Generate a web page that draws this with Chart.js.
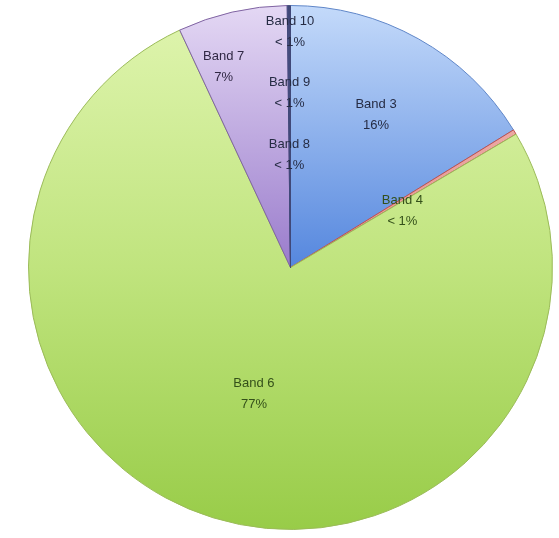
<!DOCTYPE html>
<html>
<head>
<meta charset="utf-8">
<script src="https://cdn.jsdelivr.net/npm/chart.js@4"></script>
<style>
  html, body { margin: 0; padding: 0; background: #fff; }
  #wrap { width: 559px; height: 538px; }
</style>
</head>
<body>
<div id="wrap"><canvas id="pieChart" width="559" height="538"></canvas></div>
<script>
const bandLabels = ['Band 3', 'Band 4', 'Band 6', 'Band 7', 'Band 8', 'Band 9', 'Band 10'];
const bandShares = [16.2, 0.3, 76.55, 6.75, 0.08, 0.06, 0.06];
const shareTexts = ['16%', '< 1%', '77%', '7%', '< 1%', '< 1%', '< 1%'];

// gradient stops per slice (top of pie -> bottom of pie)
const sliceGradients = [
  [['0', '#c4dafa'], ['0.5', '#5587de'], ['1', '#3f70c8']],
  [['0', '#f2b8b4'], ['1', '#d8716c']],
  [['0', '#e0f5b0'], ['0.5', '#c0e47e'], ['1', '#98cc48']],
  [['0', '#e4d8f4'], ['0.5', '#9a7ccc'], ['1', '#8a6abf']],
  [['0', '#5a6aa8'], ['1', '#4a5a98']],
  [['0', '#6a6aa8'], ['1', '#5a5a98']],
  [['0', '#7a72b0'], ['1', '#6a62a0']]
];
const sliceBorders = ['#5f86c8', '#c0504d', '#9bbb59', '#8064a2', '#404878', '#404878', '#404878'];

// where each label sits: fraction of radius and small angle nudge (degrees)
const labelRadius = [0.67, 0.48, 0.5, 0.81, 0.43, 0.67, 0.9];
const labelNudge = [0, 4, -1, -5.5, 0, 0, 0];
const labelColors = ['#262c44', '#34501a', '#34501a', '#302844', '#262c44', '#262c44', '#262c44'];

function sliceFill(context) {
  const chart = context.chart;
  const area = chart.chartArea;
  const stops = sliceGradients[context.dataIndex];
  if (!area) return stops[0][1];
  const g = chart.ctx.createLinearGradient(0, area.top, 0, area.bottom);
  stops.forEach(([pos, col]) => g.addColorStop(Number(pos), col));
  return g;
}

const bandLabelPlugin = {
  id: 'bandLabels',
  afterDatasetsDraw(chart) {
    const ctx = chart.ctx;
    const meta = chart.getDatasetMeta(0);
    ctx.save();
    ctx.font = '13px "Liberation Sans", Arial, sans-serif';
    ctx.textAlign = 'center';
    ctx.textBaseline = 'middle';
    meta.data.forEach((arc, i) => {
      const p = arc.getProps(['x', 'y', 'startAngle', 'endAngle', 'outerRadius'], true);
      const mid = (p.startAngle + p.endAngle) / 2 + labelNudge[i] * Math.PI / 180;
      const r = p.outerRadius * labelRadius[i];
      const x = p.x + Math.cos(mid) * r;
      const y = p.y + Math.sin(mid) * r;
      ctx.fillStyle = labelColors[i];
      ctx.fillText(bandLabels[i], x, y - 10);
      ctx.fillText(shareTexts[i], x, y + 11);
    });
    ctx.restore();
  }
};

new Chart(document.getElementById('pieChart'), {
  type: 'pie',
  data: {
    labels: bandLabels,
    datasets: [{
      data: bandShares,
      backgroundColor: sliceFill,
      borderColor: sliceBorders,
      borderWidth: 1
    }]
  },
  options: {
    responsive: false,
    animation: false,
    layout: { padding: { left: 28, right: 6, top: 5, bottom: 8 } },
    plugins: {
      legend: { display: false },
      tooltip: { enabled: false }
    }
  },
  plugins: [bandLabelPlugin]
});
</script>
</body>
</html>
